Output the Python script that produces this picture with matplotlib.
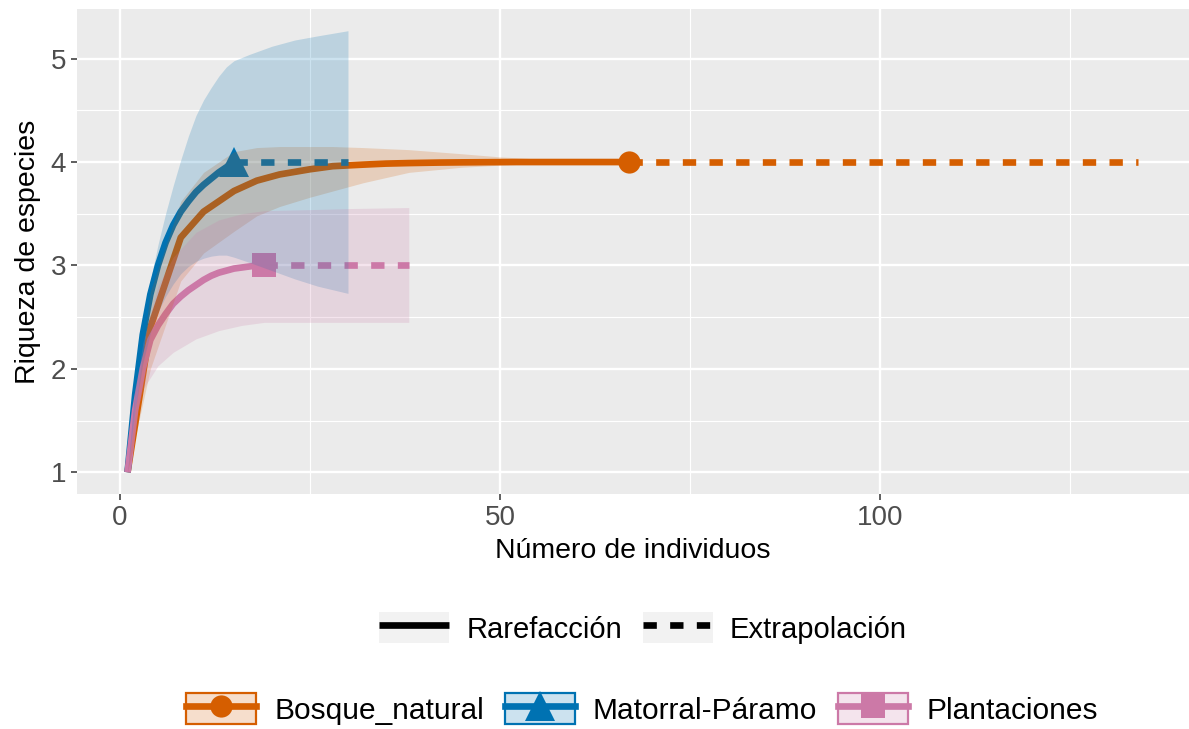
import matplotlib
matplotlib.use('Agg')
import matplotlib.pyplot as plt
from matplotlib.lines import Line2D
from matplotlib.patches import Patch
from matplotlib.legend_handler import HandlerTuple

plt.rcParams['font.family'] = ['Liberation Sans', 'DejaVu Sans']

# Bosque_natural: rarefaction curve, observed point, extrapolation, confidence band
bn_x = [1, 4, 8, 11, 15, 18, 21, 25, 28, 32, 35, 38, 42, 45, 49, 52, 56, 59, 63, 67]
bn_y = [1, 2.4, 3.27, 3.52, 3.72, 3.82, 3.88, 3.93, 3.96, 3.975, 3.985, 3.99, 3.995, 3.997, 3.999, 4, 4, 4, 4, 4]
bn_band_x = [1, 4, 8, 11, 15, 18, 21, 25, 28, 32, 38, 45, 50, 55, 60, 67, 134]
bn_upper = [1, 2.75, 3.62, 3.9, 4.1, 4.14, 4.15, 4.15, 4.15, 4.14, 4.12, 4.08, 4.05, 4.03, 4.01, 4.0, 4.0]
bn_lower = [1, 2.0, 2.85, 3.12, 3.33, 3.48, 3.57, 3.66, 3.72, 3.8, 3.9, 3.95, 3.97, 3.985, 3.995, 4.0, 4.0]
bn_ext_x = [67, 134]
bn_ext_y = [4, 4]

# Matorral-Páramo
mp_x = [1, 2, 3, 4, 5, 6, 7, 8, 9, 10, 11, 12, 13, 14, 15]
mp_y = [1, 1.75, 2.33, 2.72, 3.0, 3.22, 3.39, 3.52, 3.62, 3.71, 3.78, 3.84, 3.9, 3.95, 4.0]
mp_band_x = [1, 2, 3, 4, 5, 6, 7, 8, 9, 10, 11, 12, 13, 14, 15, 17, 20, 23, 26, 30]
mp_upper = [1, 1.85, 2.4, 2.85, 3.2, 3.5, 3.77, 4.02, 4.25, 4.45, 4.6, 4.72, 4.83, 4.92, 4.98, 5.04, 5.12, 5.18, 5.22, 5.27]
mp_lower = [1, 1.6, 2.05, 2.35, 2.55, 2.7, 2.82, 2.92, 2.99, 3.04, 3.07, 3.09, 3.1, 3.1, 3.08, 3.03, 2.95, 2.87, 2.8, 2.73]
mp_ext_x = [15, 30]
mp_ext_y = [4, 4]

# Plantaciones
pl_x = [1, 2, 3, 4, 5, 6, 7, 8, 9, 10, 11, 12, 13, 14, 15, 16, 17, 18, 19]
pl_y = [1, 1.6, 2.0, 2.28, 2.42, 2.53, 2.63, 2.7, 2.76, 2.81, 2.86, 2.9, 2.93, 2.95, 2.97, 2.98, 2.99, 3.0, 3.0]
pl_band_x = [1, 2, 3, 5, 7, 10, 13, 16, 19, 25, 30, 38]
pl_upper = [1, 1.75, 2.25, 2.8, 3.08, 3.32, 3.44, 3.5, 3.53, 3.54, 3.55, 3.56]
pl_lower = [1, 1.5, 1.8, 2.03, 2.16, 2.29, 2.37, 2.42, 2.45, 2.45, 2.45, 2.45]
pl_ext_x = [19, 38]
pl_ext_y = [3, 3]

colors = ['#D55E00', '#0072B2', '#CC79A7']
markers = ['o', '^', 's']
msizes = [16, 21, 17]
names = ['Bosque_natural', 'Matorral-Páramo', 'Plantaciones']

groups = [
    (bn_x, bn_y, bn_band_x, bn_upper, bn_lower, bn_ext_x, bn_ext_y),
    (mp_x, mp_y, mp_band_x, mp_upper, mp_lower, mp_ext_x, mp_ext_y),
    (pl_x, pl_y, pl_band_x, pl_upper, pl_lower, pl_ext_x, pl_ext_y),
]

fig = plt.figure(figsize=(11.89, 7.29), dpi=100)
ax = fig.add_axes([77 / 1189, 1 - 494 / 729, 1 - 77 / 1189, (494 - 9) / 729])
ax.set_facecolor('#EBEBEB')

lw = 4.8
# points, then lines, then ribbons on top (as drawn in the original)
for (x, y, bx, up, lo, ex, ey), c, m, ms in zip(groups, colors, markers, msizes):
    ax.plot(x[-1], y[-1], marker=m, color=c, markersize=ms, markeredgewidth=0, zorder=2)
for (x, y, bx, up, lo, ex, ey), c in zip(groups, colors):
    ax.plot(x, y, color=c, lw=lw, solid_capstyle='butt', zorder=2)
    ax.plot(ex, ey, color=c, lw=lw, dashes=(2, 2), dash_capstyle='butt', zorder=2)
for (x, y, bx, up, lo, ex, ey), c in zip(groups, colors):
    ax.fill_between(bx, lo, up, color=c, alpha=0.2, lw=0, zorder=3)

ax.set_xlim(-5.65, 140.65)
ax.set_ylim(0.79, 5.48)
ax.set_xticks([0, 50, 100])
ax.set_xticks([25, 75, 125], minor=True)
ax.set_yticks([1, 2, 3, 4, 5])
ax.set_yticks([1.5, 2.5, 3.5, 4.5], minor=True)
ax.grid(True, which='major', color='white', lw=1.7, zorder=0)
ax.grid(True, which='minor', color='white', lw=0.85, zorder=0)
ax.set_axisbelow(True)
for s in ax.spines.values():
    s.set_visible(False)
ax.tick_params(which='major', length=4.3, width=1.1, color='#333333', labelsize=20,
               labelcolor='#4D4D4D', pad=3.5)
ax.tick_params(which='minor', length=0)

ax.set_xlabel('Número de individuos', fontsize=20.5, labelpad=5)
ax.set_ylabel('Riqueza de especies', fontsize=20.5, labelpad=7)

# legend: method
key_bg = '#F2F2F2'
h1 = [(Patch(facecolor=key_bg, edgecolor='none'), Line2D([], [], color='black', lw=lw, solid_capstyle='butt')),
      (Patch(facecolor=key_bg, edgecolor='none'), Line2D([], [], color='black', lw=lw, dashes=(2, 2), dash_capstyle='butt'))]
leg1 = fig.legend(h1, ['Rarefacción', 'Extrapolación'], loc='center', bbox_to_anchor=(643 / 1189, 1 - 628 / 729),
                  ncol=2, frameon=False, fontsize=21, handlelength=2.4, handleheight=1.25,
                  handletextpad=0.6, columnspacing=0.7, borderpad=0,
                  handler_map={tuple: HandlerTuple(ndivide=1, pad=0)})

# legend: assemblage
h2 = []
for c, m, ms in zip(colors, markers, msizes):
    box = Patch(facecolor=matplotlib.colors.to_rgba(c, 0.2), edgecolor=c, lw=1.6)
    ln = Line2D([], [], color=c, lw=lw, marker=m, markersize=ms, markeredgewidth=0)
    h2.append((box, ln))
leg2 = fig.legend(h2, names, loc='center', bbox_to_anchor=(642 / 1189, 1 - 709 / 729),
                  ncol=3, frameon=False, fontsize=21.5, handlelength=2.35, handleheight=1.22,
                  handletextpad=0.6, columnspacing=0.7, borderpad=0, numpoints=1,
                  handler_map={tuple: HandlerTuple(ndivide=1, pad=0)})

fig.savefig('out.png', dpi=100)
